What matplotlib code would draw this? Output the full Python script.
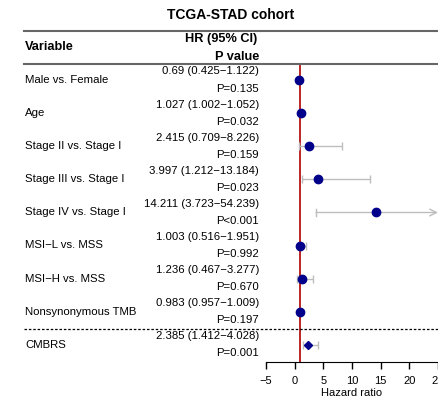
import matplotlib.pyplot as plt

plt.rcParams["font.family"] = ["Liberation Sans", "DejaVu Sans"]

W, H = 438, 398

VARIABLES = ["Male vs. Female", "Age", "Stage II vs. Stage I", "Stage III vs. Stage I",
             "Stage IV vs. Stage I", "MSI\u2212L vs. MSS", "MSI\u2212H vs. MSS",
             "Nonsynonymous TMB", "CMBRS"]
HR = [0.69, 1.027, 2.415, 3.997, 14.211, 1.003, 1.236, 0.983, 2.385]
LOWER = [0.425, 1.002, 0.709, 1.212, 3.723, 0.516, 0.467, 0.957, 1.412]
UPPER = [1.122, 1.052, 8.226, 13.184, 54.239, 1.951, 3.277, 1.009, 4.028]
PVAL = ["P=0.135", "P=0.032", "P=0.159", "P=0.023", "P<0.001",
        "P=0.992", "P=0.670", "P=0.197", "P=0.001"]
XTICKS = [-5, 0, 5, 10, 15, 20, 25]
XMAX = 25

NAVY = "#00008B"
CI_GREY = "#BDBDBD"
RULE = "#666666"
FS = 8.2


def fx(px):
    return px / W


def fy(py):
    return 1 - py / H


fig = plt.figure(figsize=(W / 100, H / 100), dpi=100)

# forest panel, pixel box x 266..438, y 64..362
ax = fig.add_axes([fx(266), fy(362), fx(438) - fx(266), fy(64) - fy(362)])
n = len(VARIABLES)
ax.set_xlim(-5, XMAX)
ax.set_ylim(n - 1 + 17 / 33.1, -16 / 33.1)
for s in ["top", "right", "left"]:
    ax.spines[s].set_visible(False)
ax.set_yticks([])
ax.set_xticks(XTICKS)
ax.set_xticklabels(["\u22125" if t < 0 else str(t) for t in XTICKS])
ax.tick_params(axis="x", length=5, width=1, labelsize=8, pad=5)
fig.text(fx(352), fy(392.5), "Hazard ratio", ha="center", va="center", fontsize=8)

ax.axvline(1, color="#B00000", linewidth=1.2, zorder=1)

for i in range(n):
    lo, hi = LOWER[i], UPPER[i]
    if hi > XMAX:
        ax.annotate("", xy=(XMAX, i), xytext=(lo, i),
                    arrowprops=dict(arrowstyle="->", color=CI_GREY, lw=1,
                                    shrinkA=0, shrinkB=0, mutation_scale=12),
                    annotation_clip=False)
        ax.plot([lo, lo], [i - 0.1, i + 0.1], color=CI_GREY, lw=1)
    else:
        ax.errorbar([HR[i]], [i], xerr=[[HR[i] - lo], [hi - HR[i]]], fmt="none",
                    ecolor=CI_GREY, elinewidth=1, capsize=3, capthick=1, zorder=2)
    marker = "D" if VARIABLES[i] == "CMBRS" else "o"
    size = 4.5 if marker == "D" else 6
    ax.plot(HR[i], i, marker=marker, color=NAVY, markersize=size, zorder=3,
            clip_on=False)

# table side
fig.text(fx(231), fy(15), "TCGA-STAD cohort", ha="center", va="center",
         fontsize=10, fontweight="bold")
fig.add_artist(plt.Line2D([fx(24), 1], [fy(31), fy(31)], color=RULE, lw=1.5))
fig.add_artist(plt.Line2D([fx(24), 1], [fy(63.5), fy(63.5)], color=RULE, lw=1.5))
fig.text(fx(25), fy(47.5), "Variable", ha="left", va="center",
         fontsize=9.2, fontweight="bold")
fig.text(fx(257), fy(39), "HR (95% CI)", ha="right", va="center",
         fontsize=9.2, fontweight="bold")
fig.text(fx(259), fy(56.5), "P value", ha="right", va="center",
         fontsize=9.2, fontweight="bold")

for i in range(n):
    yc = 80 + 33.1 * i
    fig.text(fx(25), fy(yc), VARIABLES[i], ha="left", va="center", fontsize=FS)
    ci = f"{HR[i]} ({LOWER[i]}\u2212{UPPER[i]})"
    fig.text(fx(259), fy(yc - 8.5), ci, ha="right", va="center", fontsize=FS)
    fig.text(fx(259), fy(yc + 8.5), PVAL[i], ha="right", va="center", fontsize=FS)

fig.add_artist(plt.Line2D([fx(24), 1], [fy(329), fy(329)], color="black",
                          lw=0.9, linestyle=(0, (2, 1.5))))

fig.savefig("out.png", dpi=100)
